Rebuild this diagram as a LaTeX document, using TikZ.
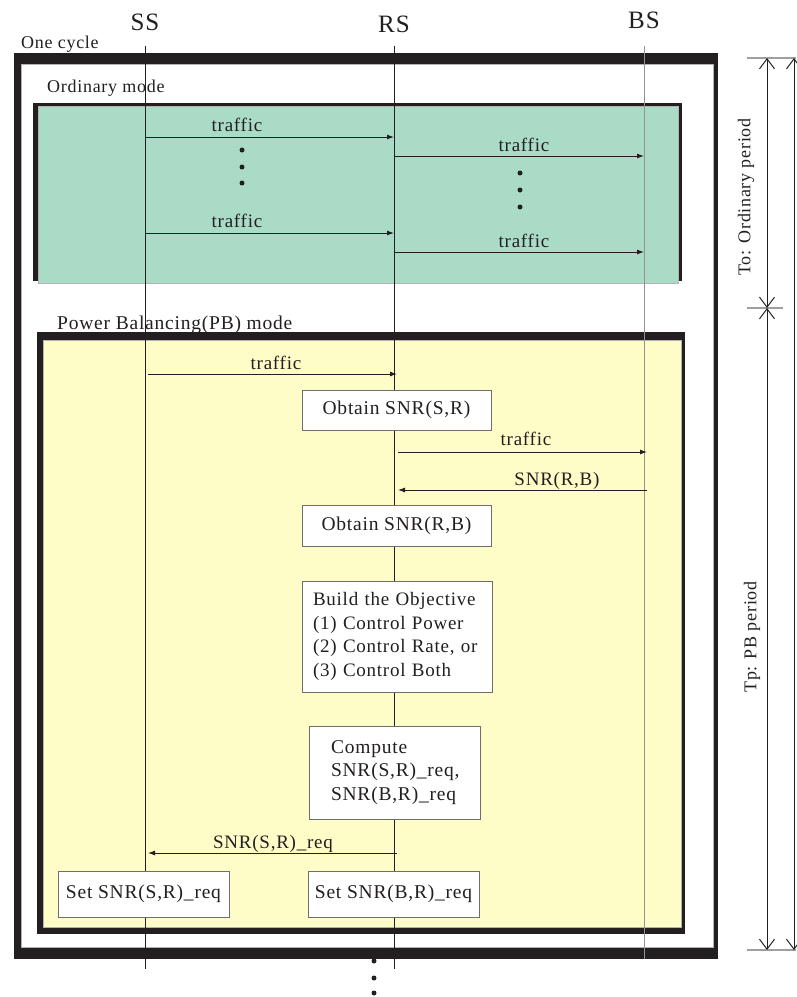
\documentclass[tikz,border=0pt]{standalone}
\usepackage{fontspec}
\setmainfont{Liberation Serif}[LetterSpace=4]
\usetikzlibrary{arrows.meta}
\definecolor{ordgreen}{RGB}{170,219,199}
\definecolor{pbyellow}{RGB}{255,253,199}
\definecolor{frameblk}{RGB}{35,31,32}
\definecolor{boxgray}{RGB}{110,110,110}
\definecolor{inkc}{RGB}{35,31,32}
\tikzset{
  lifeline/.style={line width=1pt, draw=inkc},
  msg/.style={line width=0.9pt, draw=inkc, -{Latex[length=7pt,width=5pt]}},
  actbox/.style={draw=boxgray, fill=white, line width=1pt, inner sep=0pt, text=inkc,
    font=\fontsize{19.5}{23.5}\selectfont},
  lbl/.style={font=\fontsize{19}{22}\selectfont, anchor=base, inner sep=0pt, text=inkc},
  title/.style={font=\fontsize{18}{22}\selectfont, anchor=base west, inner sep=0pt, text=inkc},
  head/.style={font=\fontsize{25}{28}\selectfont, inner sep=0pt, text=inkc},
  dimline/.style={line width=1pt, draw=inkc,
    {Straight Barb[length=10pt,width=15pt]}-{Straight Barb[length=10pt,width=15pt]}},
  dimtick/.style={line width=1.2pt, draw=gray!75},
  dimlbl/.style={font=\fontsize{18}{22}\selectfont, rotate=90, inner sep=0pt, text=inkc}
}
\begin{document}
\begin{tikzpicture}[x=1pt,y=-1pt]
\useasboundingbox (0,0) rectangle (796,997);

% One cycle frame
\fill[frameblk] (14,53) rectangle (718,959);
\filldraw[fill=white, draw=gray!60, line width=0.8pt] (21,64) rectangle (713,947);
\node[title] (onecycle) at (21,48) {One cycle};

% Ordinary mode
\fill[frameblk] (33,103) rectangle (682,281);
\filldraw[fill=ordgreen, draw=gray!60, line width=0.8pt] (38,106) rectangle (678,283);
\node[title] (ordtitle) at (47,92) {Ordinary mode};

% PB mode
\fill[frameblk] (37,332) rectangle (685,934);
\filldraw[fill=pbyellow, draw=gray!60, line width=0.8pt] (43,340) rectangle (681,927);
\node[title, font=\fontsize{19.5}{22}\selectfont] (pbtitle) at (57,329) {Power Balancing(PB) mode};

% heads and lifelines
\node[head] (ss) at (145,22) {SS};
\node[head] (rs) at (394,24) {RS};
\node[head] (bs) at (644,20) {BS};
\coordinate (ssT) at (145,46); \coordinate (ssB) at (145,969);
\coordinate (rsT) at (394,46); \coordinate (rsB) at (394,969);
\coordinate (bsT) at (644,46); \coordinate (bsB) at (644,959);
\draw[lifeline] (ssT) -- (ssB);
\draw[lifeline] (rsT) -- (rsB);
\draw[lifeline, draw=gray!85] (bsT) -- (bsB);

% ordinary mode messages
\coordinate (o1a) at (145,137); \coordinate (o1b) at (394,137);
\coordinate (o2a) at (394,156); \coordinate (o2b) at (644,156);
\coordinate (o3a) at (145,233); \coordinate (o3b) at (394,233);
\coordinate (o4a) at (394,252); \coordinate (o4b) at (644,252);
\draw[msg] (o1a) -- (o1b);
\draw[msg] (o2a) -- (o2b);
\draw[msg] (o3a) -- (o3b);
\draw[msg] (o4a) -- (o4b);
\node[lbl] (t1) at (237,131) {traffic};
\node[lbl] (t2) at (524,151) {traffic};
\node[lbl] (t3) at (237,227) {traffic};
\node[lbl] (t4) at (524,247) {traffic};
\foreach \y in {150,167,183} \fill[inkc] (242,\y) circle (2.5);
\foreach \y in {173,190,207} \fill[inkc] (520,\y) circle (2.5);

% PB mode messages
\coordinate (p1a) at (148,374); \coordinate (p1b) at (397,374);
\coordinate (p2a) at (398,452); \coordinate (p2b) at (647,452);
\coordinate (p3a) at (647,490); \coordinate (p3b) at (398,490);
\coordinate (p4a) at (397,853); \coordinate (p4b) at (148,853);
\draw[msg] (p1a) -- (p1b);
\draw[msg] (p2a) -- (p2b);
\draw[msg] (p3a) -- (p3b);
\draw[msg] (p4a) -- (p4b);
\node[lbl] (pt1) at (276,369) {traffic};
\node[lbl] (pt2) at (526,445) {traffic};
\node[lbl] (snrrb) at (557,485) {SNR(R,B)};
\node[lbl] (snrsrq) at (273,848) {SNR(S,R)\_req};

% activity boxes
\node[actbox, minimum width=189pt, minimum height=40pt] (obt1) at (396.5,410) {Obtain SNR(S,R)};
\node[actbox, minimum width=189pt, minimum height=41pt] (obt2) at (396.5,525.5) {Obtain SNR(R,B)};
\node[actbox, font=\fontsize{19}{23.5}\selectfont, minimum width=190pt, minimum height=111pt, inner xsep=11pt, text width=168pt, align=left] (build) at (397,636.5)
  {\mbox{Build the Objective}\\\mbox{(1) Control Power}\\\mbox{(2) Control Rate, or}\\\mbox{(3) Control Both}};
\node[actbox, minimum width=171pt, minimum height=93pt, inner xsep=22pt, text width=127pt, align=left] (compute) at (394.5,772.5)
  {Compute\\SNR(S,R)\_req,\\SNR(B,R)\_req};
\node[actbox, minimum width=171pt, minimum height=46pt] (sets) at (143.5,894) {Set SNR(S,R)\_req};
\node[actbox, minimum width=171pt, minimum height=46pt] (setb) at (393.5,894) {Set SNR(B,R)\_req};

% continuation dots
\foreach \y in {961,978,993} \fill[inkc] (374,\y) circle (2.5);

% dimension lines
\draw[dimtick] (747,58) -- (796,58);
\draw[dimtick] (747,308) -- (783,308);
\draw[dimtick] (747,950) -- (796,950);
\coordinate (d1t) at (767,58); \coordinate (d1m) at (767,308); \coordinate (d1b) at (767,950);
\coordinate (d2t) at (794,58); \coordinate (d2b) at (794,950);
\draw[dimline] (d1t) -- (d1m);
\draw[dimline] (d1m) -- (d1b);
\draw[dimline] (d2t) -- (d2b);
\node[dimlbl] (tolbl) at (746,197) {To: Ordinary period};
\node[dimlbl] (tplbl) at (752,637) {Tp: PB period};
\end{tikzpicture}
\end{document}
